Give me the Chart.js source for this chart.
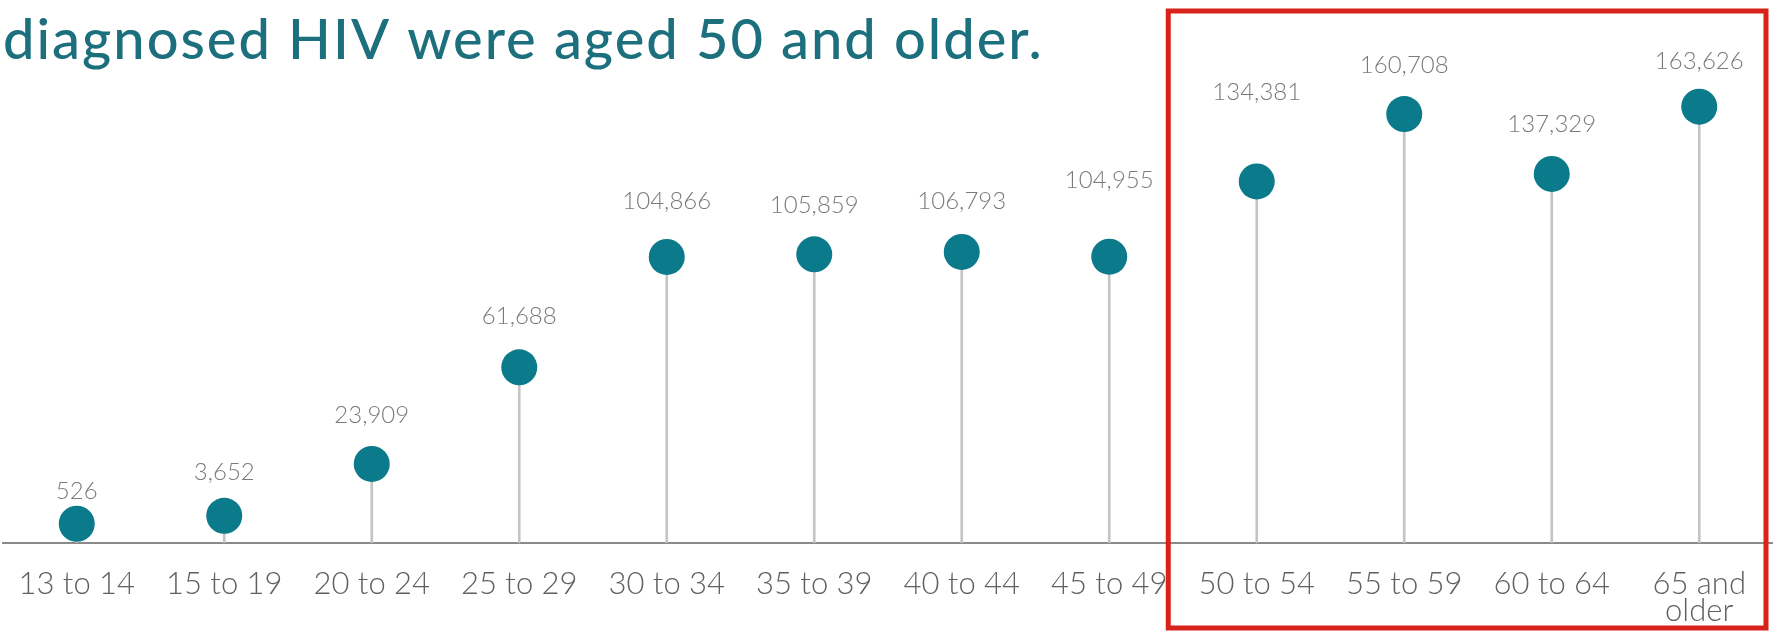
<!DOCTYPE html>
<html>
<head>
<meta charset="utf-8">
<script src="https://cdn.jsdelivr.net/npm/chart.js@4.4.1/dist/chart.umd.min.js"></script>
<style>
  html, body { margin: 0; padding: 0; background: #ffffff; }
  #wrap { width: 1773px; height: 631px; position: relative; }
</style>
</head>
<body>
<div id="wrap"><canvas id="c" width="1773" height="631"></canvas></div>
<script>
// People with diagnosed HIV, by age group
const ageGroups = ['13 to 14', '15 to 19', '20 to 24', '25 to 29', '30 to 34', '35 to 39',
                   '40 to 44', '45 to 49', '50 to 54', '55 to 59', '60 to 64', ['65 and', 'older']];
const peopleWithHIV = [526, 3652, 23909, 61688, 104866, 105859, 106793, 104955, 134381, 160708, 137329, 163626];
const headline = 'diagnosed HIV were aged 50 and older.';
const highlightFrom = 8; // first group in the "50 and older" box

// value axis range (baseline sits slightly below zero so small dots rest on the axis)
const Y_MIN = -7000;
const Y_MAX = 197500;

const TEAL = '#0b7a8a';
const STEM = '#c4c4c4';

// how far above each dot its value label sits
const labelLift = [32, 43, 49, 51, 56, 49, 51, 76, 89, 49, 50, 45];

const valueLabels = {
  id: 'valueLabels',
  afterDatasetsDraw(chart) {
    const ctx = chart.ctx;
    const meta = chart.getDatasetMeta(0);
    ctx.save();
    ctx.font = '300 24px Lato';
    ctx.fillStyle = '#7a7a7a';
    ctx.textAlign = 'center';
    ctx.textBaseline = 'middle';
    meta.data.forEach((pt, i) => {
      ctx.fillText(peopleWithHIV[i].toLocaleString('en-US'), pt.x, pt.y - labelLift[i]);
    });
    ctx.restore();
  }
};

const headlineAndBox = {
  id: 'headlineAndBox',
  afterDraw(chart) {
    const ctx = chart.ctx;
    const x = chart.scales.x;
    ctx.save();
    ctx.font = '500 56px Lato';
    ctx.letterSpacing = '2px';
    ctx.fillStyle = '#1c6f7c';
    ctx.textAlign = 'left';
    ctx.textBaseline = 'alphabetic';
    ctx.fillText(headline, 3, 59);
    ctx.letterSpacing = '0px';

    const step = x.getPixelForValue(1) - x.getPixelForValue(0);
    const left = x.getPixelForValue(highlightFrom) - 0.6 * step;
    const right = chart.width - 7;
    ctx.strokeStyle = '#d8231b';
    ctx.lineWidth = 5;
    ctx.strokeRect(left, 11, right - left, chart.height - 14);
    ctx.restore();
  }
};

new Chart(document.getElementById('c'), {
  data: {
    labels: ageGroups,
    datasets: [
      {
        type: 'line',
        data: peopleWithHIV,
        showLine: false,
        pointRadius: 18,
        pointHoverRadius: 18,
        pointBackgroundColor: TEAL,
        pointBorderWidth: 0,
        clip: false,
        order: 0
      },
      {
        type: 'bar',
        data: peopleWithHIV.map(v => [Y_MIN, v]),
        backgroundColor: STEM,
        barThickness: 2,
        order: 1
      }
    ]
  },
  options: {
    responsive: false,
    devicePixelRatio: 1,
    animation: false,
    events: [],
    layout: { autoPadding: false, padding: { left: 3, right: 0, top: 20, bottom: 0 } },
    plugins: { legend: { display: false }, tooltip: { enabled: false } },
    scales: {
      x: {
        type: 'category',
        offset: true,
        grid: { display: false, drawTicks: false },
        border: { display: true, color: '#8a8a8a', width: 2 },
        ticks: {
          color: '#606060',
          font: { family: 'Lato', size: 31, weight: '300', lineHeight: 0.85 },
          padding: 28,
          maxRotation: 0,
          autoSkip: false
        },
        afterFit(scale) {
          scale.height = 88;
          scale.paddingLeft = 0;
          scale.paddingRight = 0;
        }
      },
      y: {
        display: false,
        min: Y_MIN,
        max: Y_MAX
      }
    }
  },
  plugins: [valueLabels, headlineAndBox]
});
</script>
</body>
</html>
